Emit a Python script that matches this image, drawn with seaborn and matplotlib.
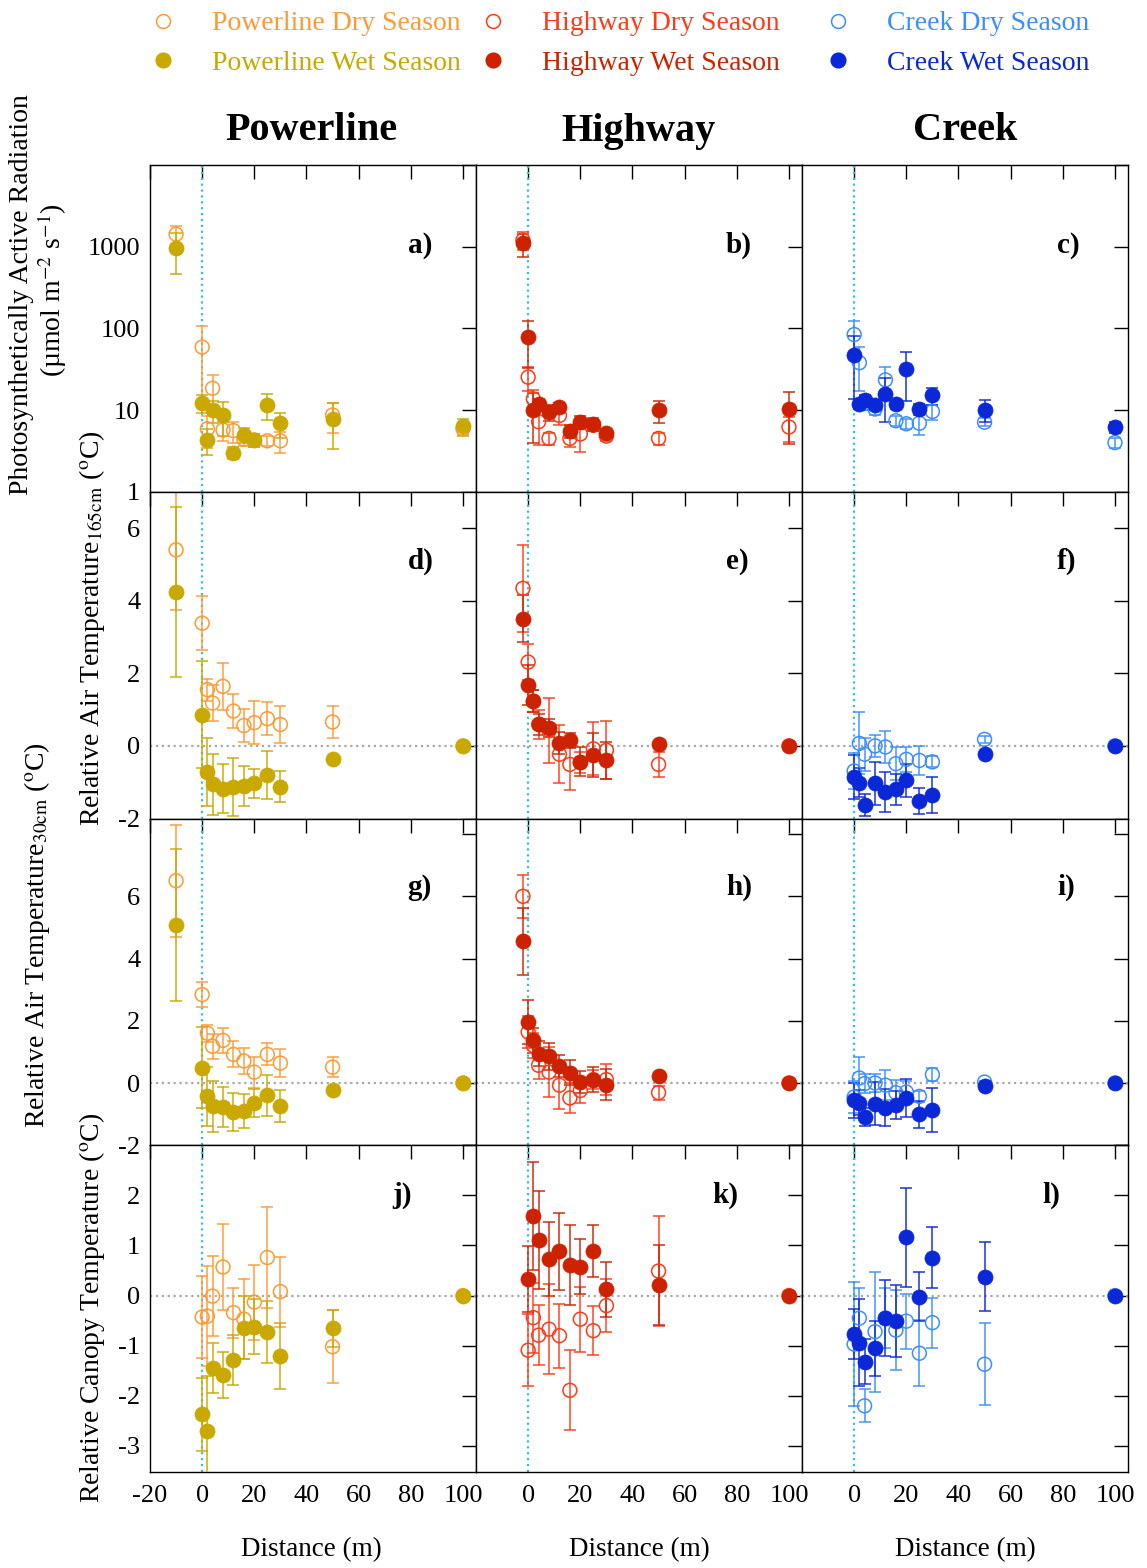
import numpy as np
import pandas as pd
import matplotlib
matplotlib.use("Agg")
import matplotlib.pyplot as plt
import seaborn as sns
from matplotlib.lines import Line2D

# ---------------- data ----------------
dist_power = [-10, 0, 2, 4, 8, 12, 16, 20, 25, 30, 50, 100]
dist_high = [-2, 0, 2, 4, 8, 12, 16, 20, 25, 30, 50, 100]
dist_creek = [0, 2, 4, 8, 12, 16, 20, 25, 30, 50, 100]
dist_canopy = [0, 2, 4, 8, 12, 16, 20, 25, 30, 50, 100]

# PAR (umol m-2 s-1)
par_power_dry = [1420, 59, 5.9, 18.5, 5.7, 5.6, 4.4, 4.3, 4.2, 4.2, 8.7, 5.9]
par_power_dry_sd = [360, 48, 2.5, 8, 1.5, 1.6, 0.8, 0.8, 0.6, 1.2, 3.5, 1.0]
par_power_wet = [968, 12.2, 4.3, 9.9, 8.6, 3.0, 5.0, 4.3, 11.6, 6.9, 7.8, 6.3]
par_power_wet_sd = [500, 3, 1.5, 3, 3.8, 0.5, 1.0, 0.8, 4, 2.4, 4.5, 1.5]

par_high_dry = [1200, 25.3, 13.7, 7.2, 4.5, 8.6, 4.5, 5.1, 6.5, 4.8, 4.5, 6.2]
par_high_dry_sd = [300, 8, 4, 3.5, 0.8, 2, 1.0, 2.0, 1, 0.6, 0.8, 2.1]
par_high_wet = [1100, 78, 10.0, 11.7, 9.4, 10.8, 5.6, 7.2, 6.8, 5.2, 9.9, 10.3]
par_high_wet_sd = [350, 45, 6, 2, 2, 1.5, 1, 1.3, 1.2, 0.7, 3, 6.5]

par_creek_dry = [84, 38, 12, 10.3, 23.4, 7.4, 6.8, 6.9, 9.6, 7.1, 4.0]
par_creek_dry_sd = [38, 21, 2, 1.5, 10, 1, 1, 2, 2, 0.8, 0.6]
par_creek_wet = [47.5, 11.9, 13.1, 11.6, 15.8, 11.9, 32, 10.3, 15.1, 10.1, 6.2]
par_creek_wet_sd = [34, 1.5, 2, 1.5, 8.7, 1.5, 19, 1.5, 3.5, 3, 1]

# Relative air temperature at 165 cm
t165_power_dry = [5.40, 3.38, 1.55, 1.18, 1.64, 0.96, 0.56, 0.64, 0.75, 0.59, 0.66, 0.0]
t165_power_dry_sd = [1.65, 0.74, 0.3, 0.5, 0.64, 0.47, 0.46, 0.6, 0.45, 0.5, 0.45, 0.0]
t165_power_wet = [4.23, 0.86, -0.71, -1.06, -1.18, -1.13, -1.10, -1.03, -0.80, -1.12, -0.37, 0.0]
t165_power_wet_sd = [2.34, 1.47, 0.94, 0.83, 0.68, 0.8, 0.55, 0.4, 0.66, 0.43, 0.05, 0.0]

t165_high_dry = [4.34, 2.31, 1.23, 0.59, 0.42, -0.23, -0.51, -0.46, -0.08, -0.12, -0.51, 0.0]
t165_high_dry_sd = [1.2, 0.5, 0.3, 0.4, 0.9, 0.8, 0.7, 0.3, 0.73, 0.8, 0.35, 0.0]
t165_high_wet = [3.50, 1.69, 1.23, 0.59, 0.50, 0.09, 0.15, -0.44, -0.25, -0.40, 0.06, 0.0]
t165_high_wet_sd = [0.65, 0.55, 0.3, 0.3, 0.25, 0.3, 0.2, 0.4, 0.6, 0.5, 0.05, 0.0]

t165_creek_dry = [-0.69, 0.07, -0.23, 0.0, -0.03, -0.49, -0.37, -0.40, -0.44, 0.18, 0.0]
t165_creek_dry_sd = [0.5, 0.85, 0.45, 0.3, 0.45, 0.45, 0.35, 0.4, 0.15, 0.1, 0.0]
t165_creek_wet = [-0.86, -1.01, -1.63, -1.03, -1.27, -1.20, -0.95, -1.52, -1.36, -0.22, 0.0]
t165_creek_wet_sd = [0.6, 0.4, 0.3, 0.6, 0.55, 0.42, 0.45, 0.36, 0.5, 0.05, 0.0]

# Relative air temperature at 30 cm
t30_power_dry = [6.50, 2.84, 1.60, 1.18, 1.37, 0.92, 0.71, 0.35, 0.92, 0.64, 0.51, 0.0]
t30_power_dry_sd = [1.8, 0.41, 0.27, 0.4, 0.4, 0.42, 0.42, 0.5, 0.35, 0.45, 0.32, 0.0]
t30_power_wet = [5.08, 0.49, -0.42, -0.75, -0.77, -0.93, -0.91, -0.63, -0.40, -0.74, -0.24, 0.0]
t30_power_wet_sd = [2.45, 1.3, 0.95, 0.83, 0.65, 0.62, 0.55, 0.45, 0.67, 0.5, 0.08, 0.0]

t30_high_dry = [6.0, 1.64, 1.2, 0.57, 0.35, -0.07, -0.48, -0.24, 0.11, 0.11, -0.31, 0.0]
t30_high_dry_sd = [0.7, 0.5, 0.4, 0.45, 0.8, 0.75, 0.47, 0.4, 0.3, 0.5, 0.22, 0.0]
t30_high_wet = [4.55, 1.96, 1.37, 0.94, 0.86, 0.55, 0.33, 0.03, 0.11, -0.05, 0.22, 0.0]
t30_high_wet_sd = [1.07, 0.7, 0.4, 0.4, 0.43, 0.35, 0.4, 0.35, 0.4, 0.5, 0.05, 0.0]

t30_creek_dry = [-0.45, 0.16, -0.02, 0.0, -0.07, -0.31, -0.29, -0.43, 0.27, 0.03, 0.0]
t30_creek_dry_sd = [0.5, 0.67, 0.3, 0.3, 0.48, 0.4, 0.35, 0.17, 0.22, 0.05, 0.0]
t30_creek_wet = [-0.56, -0.64, -1.09, -0.66, -0.79, -0.72, -0.48, -1.01, -0.86, -0.11, 0.0]
t30_creek_wet_sd = [0.55, 0.4, 0.3, 0.68, 0.6, 0.45, 0.62, 0.43, 0.7, 0.05, 0.0]

# Relative canopy temperature
can_power_dry = [-0.43, -0.41, -0.01, 0.57, -0.34, -0.47, -0.13, 0.76, 0.08, -1.02, 0.0]
can_power_dry_sd = [0.82, 1.0, 0.8, 0.85, 0.5, 0.8, 0.75, 1.0, 0.7, 0.73, 0.0]
can_power_wet = [-2.37, -2.70, -1.45, -1.59, -1.29, -0.64, -0.62, -0.73, -1.20, -0.65, 0.0]
can_power_wet_sd = [0.73, 1.1, 0.5, 0.46, 0.5, 0.63, 0.55, 0.62, 0.66, 0.37, 0.0]

can_high_dry = [-1.09, -0.44, -0.79, -0.67, -0.80, -1.89, -0.47, -0.70, -0.20, 0.49, 0.0]
can_high_dry_sd = [0.72, 0.7, 0.6, 0.9, 0.64, 0.8, 0.65, 0.49, 0.53, 1.1, 0.0]
can_high_wet = [0.33, 1.59, 1.11, 0.73, 0.88, 0.61, 0.58, 0.89, 0.13, 0.21, 0.0]
can_high_wet_sd = [0.65, 1.08, 0.98, 0.74, 0.77, 0.79, 0.55, 0.52, 0.55, 0.8, 0.0]

can_creek_dry = [-0.97, -0.45, -2.20, -0.72, -0.45, -0.69, -0.51, -1.15, -0.54, -1.37, 0.0]
can_creek_dry_sd = [1.24, 0.6, 0.33, 1.2, 0.6, 0.8, 0.55, 0.66, 0.5, 0.82, 0.0]
can_creek_wet = [-0.77, -0.94, -1.32, -1.05, -0.44, -0.50, 1.16, -0.02, 0.76, 0.38, 0.0]
can_creek_wet_sd = [0.5, 0.87, 0.45, 0.55, 0.76, 0.72, 0.98, 0.49, 0.61, 0.69, 0.0]

sites = ["Powerline", "Highway", "Creek"]
legend_labels = ["Powerline Dry Season", "Powerline Wet Season",
                 "Highway Dry Season", "Highway Wet Season",
                 "Creek Dry Season", "Creek Wet Season"]
panel_letters = ["a)", "b)", "c)", "d)", "e)", "f)", "g)", "h)", "i)", "j)", "k)", "l)"]
x_ticks = [-20, 0, 20, 40, 60, 80, 100]

# ---------------- style ----------------
colors = {
    ("Powerline", "dry"): "#FF9A33", ("Powerline", "wet"): "#C9A800",
    ("Highway", "dry"): "#FF3A18", ("Highway", "wet"): "#CC2200",
    ("Creek", "dry"): "#3C8EFF", ("Creek", "wet"): "#0A28D8",
}

sns.set_theme(style="white")
plt.rcParams["font.family"] = ["Liberation Serif", "DejaVu Serif"]
plt.rcParams["mathtext.fontset"] = "stix"
plt.rcParams["text.color"] = "black"
plt.rcParams["axes.labelcolor"] = "black"
plt.rcParams["xtick.color"] = "black"
plt.rcParams["ytick.color"] = "black"

W, H = 1147, 1568
fig, axes = plt.subplots(4, 3, figsize=(W / 100, H / 100), dpi=100,
                         gridspec_kw=dict(hspace=0, wspace=0))
fig.subplots_adjust(left=150 / W, right=1128 / W, top=1 - 165 / H, bottom=1 - 1472 / H)

rows = [
    dict(kind="par",
         Powerline=(dist_power, par_power_dry, par_power_dry_sd, par_power_wet, par_power_wet_sd),
         Highway=(dist_high, par_high_dry, par_high_dry_sd, par_high_wet, par_high_wet_sd),
         Creek=(dist_creek, par_creek_dry, par_creek_dry_sd, par_creek_wet, par_creek_wet_sd)),
    dict(kind="t165",
         Powerline=(dist_power, t165_power_dry, t165_power_dry_sd, t165_power_wet, t165_power_wet_sd),
         Highway=(dist_high, t165_high_dry, t165_high_dry_sd, t165_high_wet, t165_high_wet_sd),
         Creek=(dist_creek, t165_creek_dry, t165_creek_dry_sd, t165_creek_wet, t165_creek_wet_sd)),
    dict(kind="t30",
         Powerline=(dist_power, t30_power_dry, t30_power_dry_sd, t30_power_wet, t30_power_wet_sd),
         Highway=(dist_high, t30_high_dry, t30_high_dry_sd, t30_high_wet, t30_high_wet_sd),
         Creek=(dist_creek, t30_creek_dry, t30_creek_dry_sd, t30_creek_wet, t30_creek_wet_sd)),
    dict(kind="can",
         Powerline=(dist_canopy, can_power_dry, can_power_dry_sd, can_power_wet, can_power_wet_sd),
         Highway=(dist_canopy, can_high_dry, can_high_dry_sd, can_high_wet, can_high_wet_sd),
         Creek=(dist_canopy, can_creek_dry, can_creek_dry_sd, can_creek_wet, can_creek_wet_sd)),
]

ylims = {"par": (1, 10000), "t165": (-2, 7), "t30": (-2, 8.5), "can": (-3.52, 3)}
yticks = {"par": [1, 10, 100, 1000, 10000], "t165": [-2, 0, 2, 4, 6],
          "t30": [-2, 0, 2, 4, 6, 8], "can": [-3, -2, -1, 0, 1, 2, 3]}
ytick_labels = {"par": ["1", "10", "100", "1000", ""], "t165": ["-2", "0", "2", "4", "6"],
                "t30": ["-2", "0", "2", "4", "6", ""], "can": ["-3", "-2", "-1", "0", "1", "2", ""]}
label_pos = {0: [(0.79, 0.755), (0.767, 0.755), (0.782, 0.755)],
             1: [(0.79, 0.786), (0.767, 0.786), (0.782, 0.786)],
             2: [(0.79, 0.789), (0.767, 0.789), (0.782, 0.789)],
             3: [(0.742, 0.847), (0.724, 0.847), (0.736, 0.847)]}


def draw_series(ax, x, y, sd, color, filled, log):
    x = np.asarray(x, float)
    y = np.asarray(y, float)
    sd = np.asarray(sd, float)
    lo = np.minimum(sd, y * 0.92) if log else sd
    ax.errorbar(x, y, yerr=[lo, sd], fmt="none", ecolor=color, elinewidth=1.3,
                capsize=4, capthick=1.3, alpha=0.8, zorder=3 if filled else 2)
    df = pd.DataFrame({"x": x, "y": y})
    if filled:
        sns.scatterplot(data=df, x="x", y="y", ax=ax, marker="o", s=118, color=color,
                        edgecolor=color, linewidth=0.5, legend=False, zorder=5)
    else:
        sns.scatterplot(data=df, x="x", y="y", ax=ax, marker="o", s=100,
                        facecolors="none", edgecolor=color, linewidth=1.1,
                        legend=False, zorder=4)


for r, row in enumerate(rows):
    kind = row["kind"]
    for c, site in enumerate(sites):
        ax = axes[r, c]
        x, yd, sdd, yw, sdw = row[site]
        log = kind == "par"
        if log:
            ax.set_yscale("log")
        ax.axvline(0, color="#36c4cc", ls=":", lw=1.6, zorder=1)
        if not log:
            ax.axhline(0, color="#a8a8a8", ls=":", lw=1.6, zorder=1)
        draw_series(ax, x, yd, sdd, colors[(site, "dry")], False, log)
        draw_series(ax, x, yw, sdw, colors[(site, "wet")], True, log)
        ax.set_xlim(-20, 105)
        ax.set_ylim(*ylims[kind])
        ax.set_yticks(yticks[kind])
        ax.minorticks_off()
        if c == 0:
            ax.set_yticklabels(ytick_labels[kind])
        else:
            ax.set_yticklabels([])
        if c == 0:
            ax.set_xticks(x_ticks)
        else:
            ax.set_xticks(x_ticks[1:])
        if r == 3:
            ax.set_xticklabels([str(t) for t in (x_ticks if c == 0 else x_ticks[1:])])
        else:
            ax.set_xticklabels([])
        ax.set_xlabel("")
        ax.set_ylabel("")
        ax.tick_params(direction="in", length=10, width=1, top=True, right=True,
                       labelsize=19, pad=7, colors="black")
        ax.tick_params(axis="x", pad=9)
        for sp in ax.spines.values():
            sp.set_color("black")
            sp.set_linewidth(1)
            sp.set_visible(True)
        lx, ly = label_pos[r][c]
        ax.text(lx, ly, panel_letters[r * 3 + c], transform=ax.transAxes, ha="left",
                va="center", fontsize=21, fontweight="bold", color="black")

# column titles and x labels
col_centers = [311, 639, 965]
for c, site in enumerate(sites):
    fig.text(col_centers[c] / W, 1 - 131 / H, site, ha="center", va="center",
             fontsize=29, fontweight="bold", color="black")
    fig.text(col_centers[c] / W, 1 - 1550 / H, "Distance (m)", ha="center", va="center",
             fontsize=19.5, color="black")

# y labels
fig.text(22 / W, 1 - 295 / H, "Photosynthetically Active Radiation", rotation=90,
         ha="center", va="center", fontsize=20)
fig.text(52 / W, 1 - 290 / H, "(µmol m$^{-2}$ s$^{-1}$)", rotation=90,
         ha="center", va="center", fontsize=20)
fig.text(92 / W, 1 - 628 / H, r"Relative Air Temperature$_{\mathrm{165cm}}$ ($^{\mathrm{o}}$C)",
         rotation=90, ha="center", va="center", fontsize=20)
fig.text(37 / W, 1 - 935 / H, r"Relative Air Temperature$_{\mathrm{30cm}}$ ($^{\mathrm{o}}$C)",
         rotation=90, ha="center", va="center", fontsize=20)
fig.text(92 / W, 1 - 1308 / H, r"Relative Canopy Temperature ($^{\mathrm{o}}$C)",
         rotation=90, ha="center", va="center", fontsize=20)

# legends
leg_x = [135, 465, 810]
for i, site in enumerate(sites):
    handles = []
    for season, filled in (("dry", False), ("wet", True)):
        col = colors[(site, season)]
        handles.append(Line2D([], [], ls="none", marker="o", markersize=10.5 if filled else 10,
                              markerfacecolor=col if filled else "none",
                              markeredgecolor=col, markeredgewidth=1.1))
    leg = fig.legend(handles, legend_labels[2 * i:2 * i + 2], loc="upper left",
                     bbox_to_anchor=(leg_x[i] / W, 1 - 11 / H), frameon=False,
                     borderpad=0, borderaxespad=0, handlelength=2.0, handletextpad=0.76,
                     labelspacing=0.5, fontsize=20)
    for txt, season in zip(leg.get_texts(), ("dry", "wet")):
        txt.set_color(colors[(site, season)])

fig.savefig("out.png", dpi=100)
